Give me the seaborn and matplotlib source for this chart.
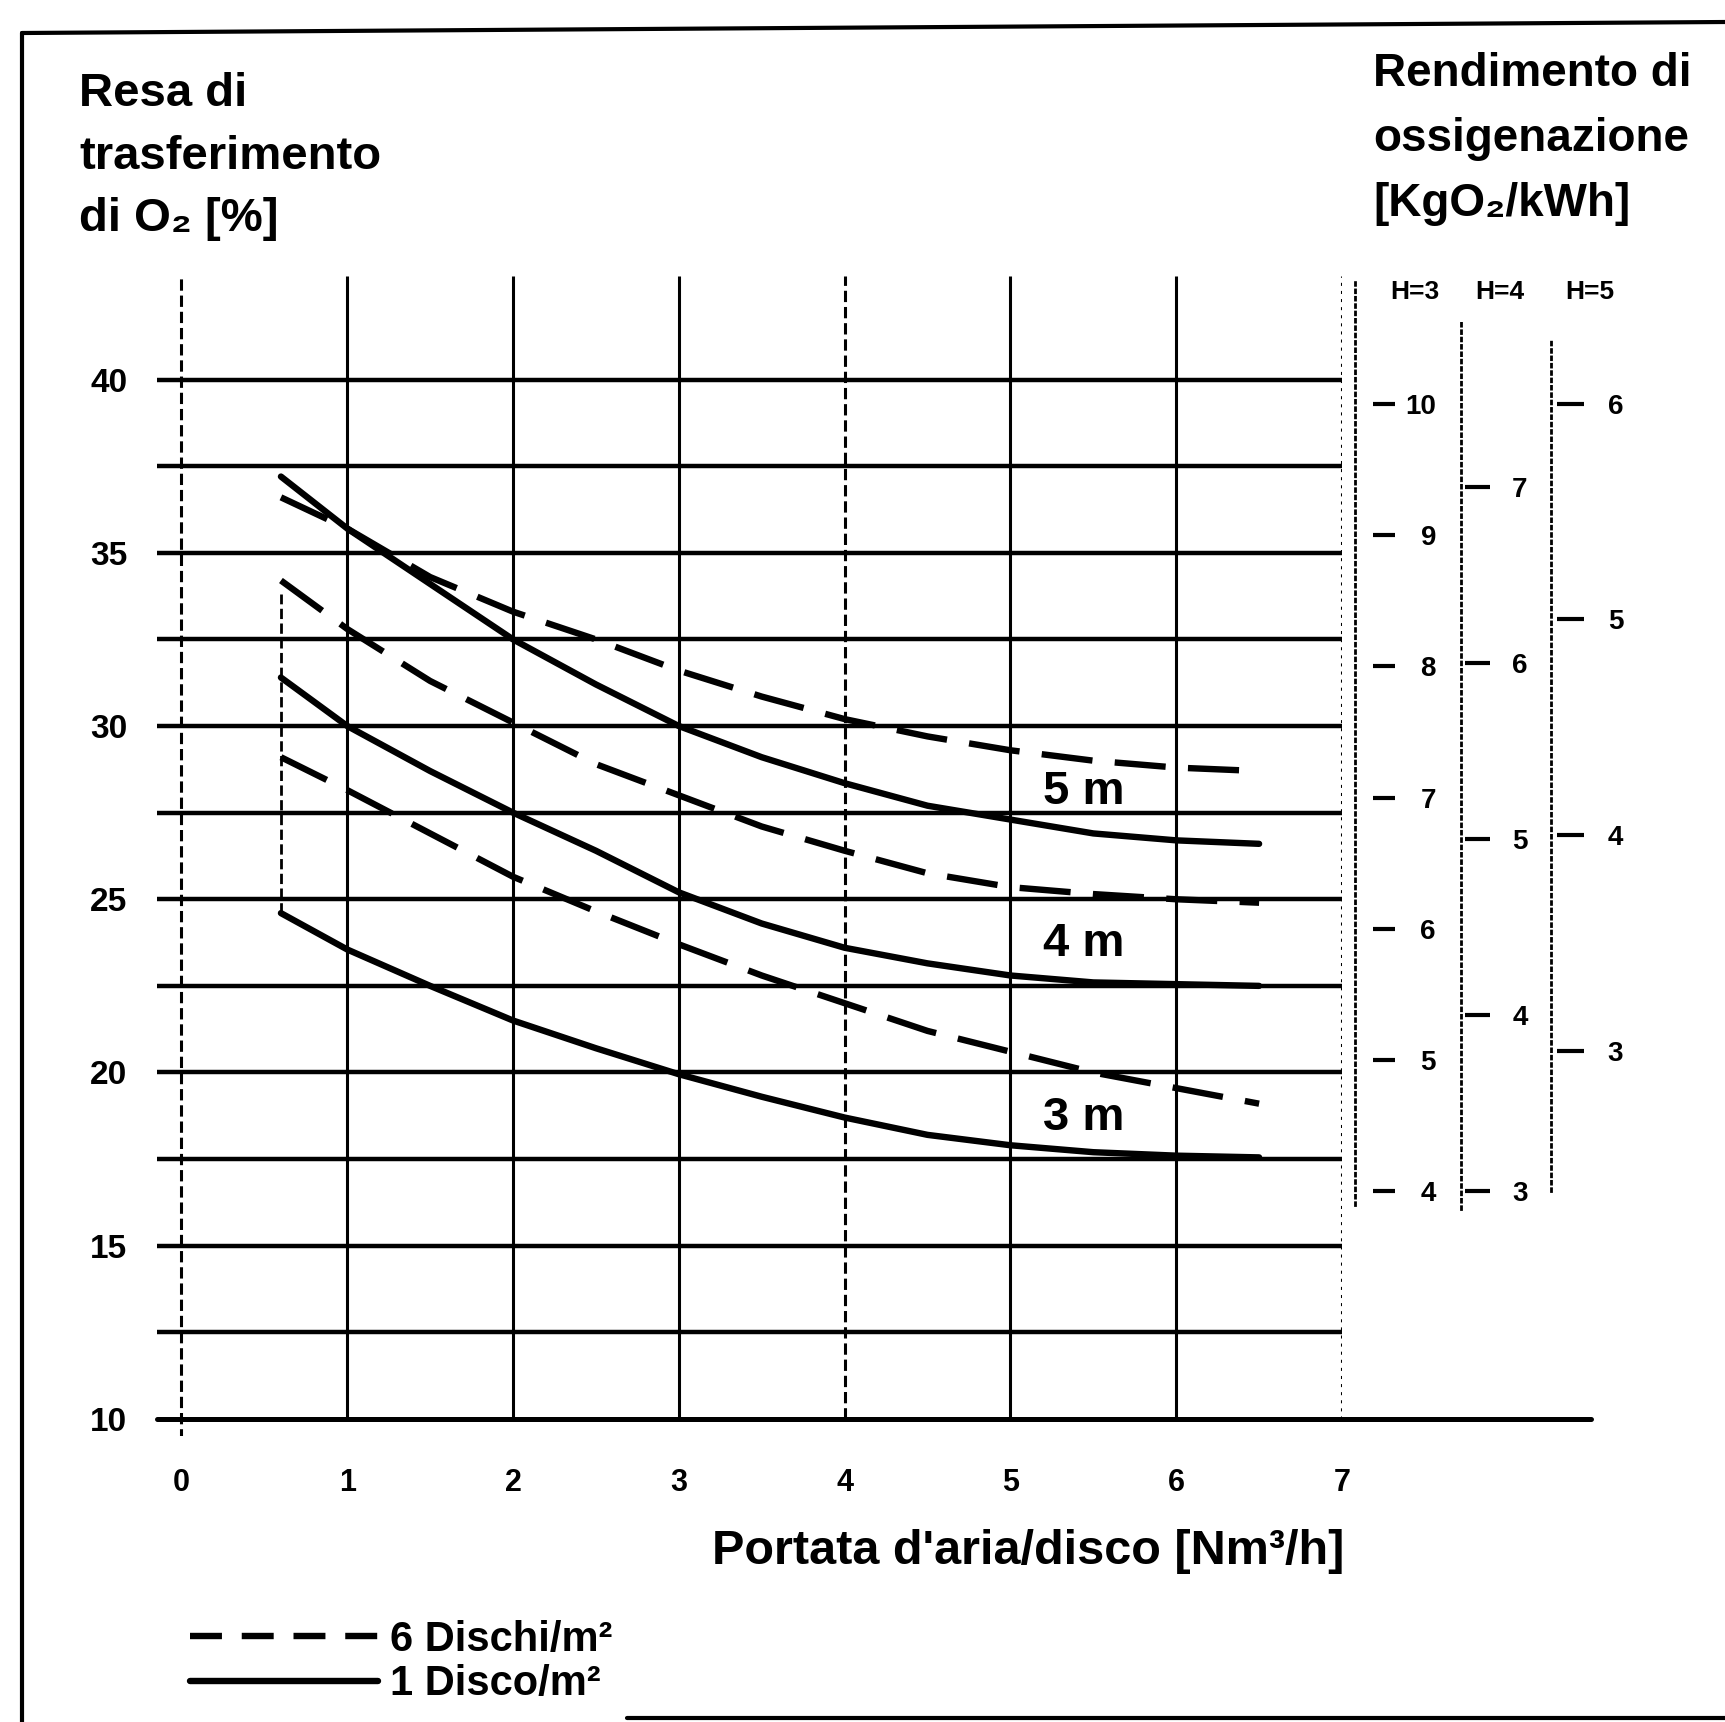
import matplotlib
matplotlib.use("Agg")
import matplotlib.pyplot as plt
import seaborn as sns
import numpy as np
import pandas as pd
from matplotlib.lines import Line2D

# air flow per diffuser [Nm3/h]
portata = [0.6, 1.0, 1.5, 2.0, 2.5, 3.0, 3.5, 4.0, 4.5, 5.0, 5.5, 6.0, 6.5]

# O2 transfer yield [%], 1 disc/m2 (solid)
resa_1_disco = {
    "5 m": [37.2, 35.7, 34.1, 32.5, 31.2, 30.0, 29.1, 28.35, 27.7, 27.3, 26.9, 26.7, 26.6],
    "4 m": [31.4, 30.0, 28.7, 27.5, 26.4, 25.2, 24.3, 23.6, 23.15, 22.8, 22.6, 22.55, 22.5],
    "3 m": [24.6, 23.55, 22.5, 21.5, 20.7, 19.95, 19.3, 18.7, 18.2, 17.9, 17.7, 17.6, 17.55],
}
# O2 transfer yield [%], 6 discs/m2 (dashed)
resa_6_dischi = {
    "5 m": [36.6, 35.7, 34.3, 33.3, 32.5, 31.6, 30.85, 30.2, 29.7, 29.3, 29.0, 28.8, 28.7],
    "4 m": [34.2, 32.8, 31.3, 30.1, 28.9, 28.0, 27.1, 26.4, 25.75, 25.35, 25.15, 25.0, 24.9],
    "3 m": [29.1, 28.15, 26.9, 25.65, 24.65, 23.7, 22.8, 22.0, 21.2, 20.6, 20.0, 19.55, 19.1],
}

# depth labels placed on the curves
depth_labels = ["5 m", "4 m", "3 m"]
depth_label_y = [28.1, 23.7, 18.7]

y_ticks = [10, 15, 20, 25, 30, 35, 40]
x_ticks = [0, 1, 2, 3, 4, 5, 6, 7]
v_styles = ["--", "-", "-", "-", "--", "-", "-", ":"]

# right-hand oxygenation efficiency scales [KgO2/kWh]
scale_names = ["H=3", "H=4", "H=5"]
scale_ticks = [[4, 5, 6, 7, 8, 9, 10], [3, 4, 5, 6, 7], [3, 4, 5, 6]]

LBL_1 = "1 Disco/m\u00b2"
LBL_6 = "6 Dischi/m\u00b2"

rows = []
for depth in resa_1_disco:
    for x, y in zip(portata, resa_1_disco[depth]):
        rows.append({"x": x, "y": y, "depth": depth, "config": LBL_1})
    for x, y in zip(portata, resa_6_dischi[depth]):
        rows.append({"x": x, "y": y, "depth": depth, "config": LBL_6})
df = pd.DataFrame(rows)

sns.set_theme(style="white")
plt.rcParams["font.family"] = ["Liberation Sans", "DejaVu Sans"]
plt.rcParams["font.weight"] = "bold"
plt.rcParams["text.color"] = "black"
plt.rcParams["xtick.color"] = "black"
plt.rcParams["ytick.color"] = "black"

W, H = 1725, 1722
fig = plt.figure(figsize=(W / 100, H / 100), dpi=100, facecolor="white")

YLO, YHI = 9.5, 43.0
ax_rect = [156.6 / W, 1 - 1436.3 / H, (1342 - 156.6) / W, (1436.3 - 275.6) / H]
ax = fig.add_axes(ax_rect)
ax.set_xlim(-0.15, 7)
ax.set_ylim(YLO, YHI)
for s in ax.spines.values():
    s.set_visible(False)

# grid
grid_y = np.arange(12.5, 40.1, 2.5)
ax.hlines(grid_y, -0.15, 7, colors="black", lw=3.2)
ax.plot([-0.15, 8.5], [10, 10], color="black", lw=3.6, clip_on=False)
for xv, ls in zip(x_ticks, v_styles):
    lo = 9.4 if xv == 0 else 10
    ax.vlines(xv, lo, YHI, colors="black", lw=2.2, linestyles=ls)
ax.vlines(portata[0], 24.6, 33.8, colors="black", lw=2, linestyles="--")

sns.lineplot(data=df, x="x", y="y", style="config", units="depth", estimator=None,
             color="black", dashes={LBL_1: "", LBL_6: (8, 3.5)}, linewidth=4.6,
             legend=False, sort=False, ax=ax)

for lbl, yv in zip(depth_labels, depth_label_y):
    ax.text(5.44, yv, lbl, ha="center", va="center", fontsize=34, fontweight="bold")

ax.set_xticks(x_ticks)
ax.set_xticklabels([str(v) for v in x_ticks], fontsize=22, fontweight="bold")
ax.set_yticks(y_ticks)
ax.set_yticklabels([str(v) for v in y_ticks], fontsize=24, fontweight="bold")
ax.tick_params(axis="x", length=0, pad=23)
ax.tick_params(axis="y", length=0, pad=21)
ax.set_xlabel("")
ax.set_ylabel("")

# right scales
scale_cfg = [
    # x_dot, gap, ylim, bounds, tick len, pad, ha
    (1355, 18, (2.135, 10.976), (3.9, 10.94), 15.8, 29.5, "right"),
    (1461, 4, (1.609, 8.203), (2.9, 7.95), 18, 16, "left"),
    (1551, 6, (1.211, 6.594), (2.35, 6.3), 19.5, 17, "left"),
]
for (xd, gap, ylim, bounds, tl, pad, ha), ticks in zip(scale_cfg, scale_ticks):
    sax = fig.add_axes([xd / W, ax_rect[1], gap / W, ax_rect[3]])
    sax.set_facecolor("none")
    sax.set_ylim(*ylim)
    sax.set_xticks([])
    for k in ["top", "bottom", "right"]:
        sax.spines[k].set_visible(False)
    sax.spines["left"].set_linestyle(":")
    sax.spines["left"].set_linewidth(2)
    sax.spines["left"].set_color("black")
    sax.spines["left"].set_bounds(*bounds)
    sax.yaxis.tick_right()
    sax.set_yticks(ticks)
    sax.set_yticklabels([str(t) for t in ticks], fontsize=20, fontweight="bold", ha=ha)
    sax.tick_params(axis="y", direction="out", length=tl, width=3, pad=pad, colors="black")

for name, xs in zip(scale_names, [1415, 1500, 1590]):
    fig.text(xs / W, 1 - 292 / H, name, ha="center", va="center", fontsize=19, fontweight="bold")

# axis titles
fig.text(79 / W, 1 - 72 / H, "Resa di\ntrasferimento\ndi O\u2082 [%]", ha="left", va="top",
         fontsize=34, fontweight="bold", linespacing=1.55)
fig.text(1373 / W, 1 - 52 / H, "Rendimento di\nossigenazione\n[KgO\u2082/kWh]", ha="left", va="top",
         fontsize=33, fontweight="bold", linespacing=1.62)
fig.text(1344 / W, 1 - 1551 / H, "Portata d'aria/disco [Nm\u00b3/h]", ha="right", va="center",
         fontsize=35, fontweight="bold")

# legend
handles = [Line2D([], [], color="black", lw=4.6, dashes=(5.0, 3.1)),
           Line2D([], [], color="black", lw=4.6)]
fig.legend(handles, [LBL_6, LBL_1], loc="upper left", bbox_to_anchor=(190 / W, 1 - 1620 / H),
           frameon=False, handlelength=4.5, handletextpad=0.3, labelspacing=0.1,
           borderpad=0, borderaxespad=0, prop={"weight": "bold", "size": 30})

# page frame
fig.add_artist(Line2D([22 / W, 22 / W], [0, 1 - 33 / H], transform=fig.transFigure, color="black", lw=3))
fig.add_artist(Line2D([22 / W, 1], [1 - 33 / H, 1 - 22 / H], transform=fig.transFigure, color="black", lw=3))
fig.add_artist(Line2D([627 / W, 1], [1 - 1718 / H, 1 - 1718 / H], transform=fig.transFigure, color="black", lw=3))

fig.savefig("out.png", dpi=100, facecolor="white")
plt.close(fig)
